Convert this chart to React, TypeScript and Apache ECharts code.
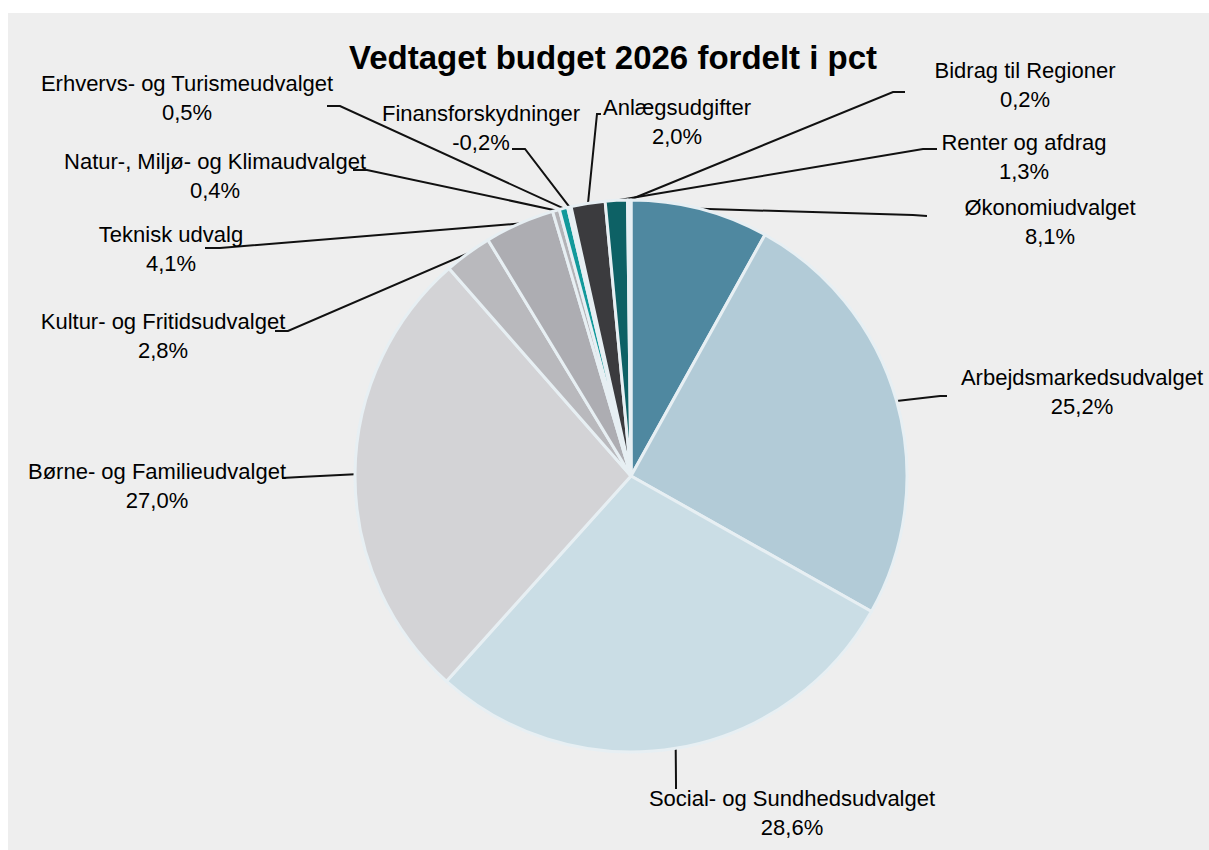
import React, { useEffect, useRef } from "react";
import * as echarts from "echarts";

const titleText = "Vedtaget budget 2026 fordelt i pct";

const categories = [
  "Økonomiudvalget",
  "Arbejdsmarkedsudvalget",
  "Social- og Sundhedsudvalget",
  "Børne- og Familieudvalget",
  "Kultur- og Fritidsudvalget",
  "Teknisk udvalg",
  "Natur-, Miljø- og Klimaudvalget",
  "Erhvervs- og Turismeudvalget",
  "Finansforskydninger",
  "Anlægsudgifter",
  "Renter og afdrag",
  "Bidrag til Regioner",
];

const shares = [8.1, 25.2, 28.6, 27.0, 2.8, 4.1, 0.4, 0.5, -0.2, 2.0, 1.3, 0.2];

const sliceColors = [
  "#4f88a0",
  "#b2cbd7",
  "#cadde5",
  "#d3d3d6",
  "#b9b9bd",
  "#adadb2",
  "#b3b3b7",
  "#12999b",
  "#e4edf1",
  "#3b3b3e",
  "#0d6165",
  "#e6eef2",
];

// label centre and leader-line bend / end point (chart pixels)
const labelAnchors = [
  { x: 1042, y: 209, bend: [905, 202], end: [919, 203] },
  { x: 1074, y: 379, bend: [932, 383], end: [939, 383] },
  { x: 784, y: 800, bend: [668, 770], end: [668, 776] },
  { x: 149, y: 473, bend: [292, 464], end: [274, 465] },
  { x: 155, y: 323, bend: [280, 318], end: [267, 318] },
  { x: 163, y: 236, bend: [212, 235], end: [197, 235] },
  { x: 207, y: 163, bend: [359, 157], end: [345, 157] },
  { x: 179, y: 85, bend: [332, 93], end: [319, 93] },
  { x: 473, y: 115, bend: [517, 136], end: [504, 136] },
  { x: 669, y: 109, bend: [589, 101], end: [593, 101] },
  { x: 1016, y: 144, bend: [915, 136], end: [929, 136] },
  { x: 1017, y: 72, bend: [885, 79], end: [897, 79] },
];

const pieCenter = [623, 463];
const pieRadius = 276;

const fmt = (v: number) => v.toFixed(1).replace(".", ",");

export default function App() {
  const ref = useRef<HTMLDivElement>(null);

  useEffect(() => {
    if (!ref.current) return;
    const chart = echarts.init(ref.current, null, { renderer: "svg" });
    const total = shares.reduce((s, v) => s + Math.abs(v), 0);

    const option: any = {
      animation: false,
      backgroundColor: "#eeeeee",
      graphic: [
        {
          type: "text",
          x: 605,
          y: 44,
          silent: true,
          style: {
            text: titleText,
            fontFamily: "Liberation Sans",
            fontWeight: "bold",
            fontSize: 33,
            fill: "#000000",
            align: "center",
            verticalAlign: "middle",
          },
        },
      ],
      series: [
        {
          type: "pie",
          center: pieCenter,
          radius: pieRadius,
          startAngle: 90,
          clockwise: true,
          avoidLabelOverlap: false,
          silent: true,
          emphasis: { disabled: true },
          itemStyle: { borderColor: "#e7eff3", borderWidth: 3 },
          label: {
            show: true,
            position: "outside",
            fontFamily: "Liberation Sans",
            fontSize: 22,
            lineHeight: 29,
            color: "#000000",
            align: "center",
            formatter: (p: any) => `${p.name}\n${fmt(shares[p.dataIndex])}%`,
          },
          labelLine: {
            show: true,
            smooth: false,
            length: 10,
            length2: 10,
            lineStyle: { color: "#111111", width: 2 },
          },
          labelLayout: (params: any) => {
            const i = params.dataIndex;
            const a = labelAnchors[i];
            let start = params.labelLinePoints && params.labelLinePoints[0];
            if (!start) {
              let cum = 0;
              for (let k = 0; k < i; k++) cum += Math.abs(shares[k]);
              const mid = ((cum + Math.abs(shares[i]) / 2) / total) * Math.PI * 2;
              start = [
                pieCenter[0] + pieRadius * Math.sin(mid),
                pieCenter[1] - pieRadius * Math.cos(mid),
              ];
            }
            return {
              x: a.x,
              y: a.y,
              align: "center",
              verticalAlign: "middle",
              labelLinePoints: [start, a.bend, a.end],
            };
          },
          data: shares.map((v, i) => ({
            name: categories[i],
            value: Math.abs(v),
            itemStyle: { color: sliceColors[i] },
          })),
        },
      ],
    };
    chart.setOption(option);
    return () => chart.dispose();
  }, []);

  return (
    <div
      ref={ref}
      style={{ position: "absolute", left: 8, top: 13, width: 1201, height: 837 }}
    />
  );
}
